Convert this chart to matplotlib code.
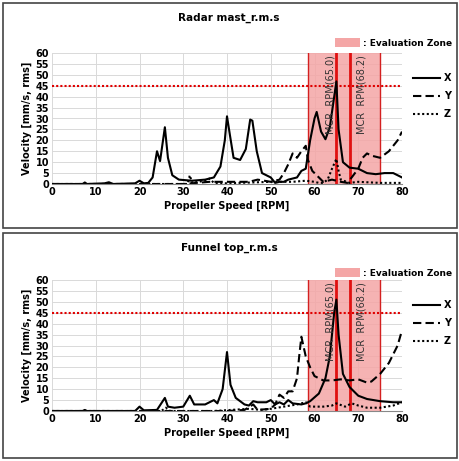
import matplotlib
matplotlib.use("Agg")
import matplotlib.pyplot as plt
from matplotlib.patches import Rectangle
from matplotlib.lines import Line2D

titles = ["Radar mast_r.m.s", "Funnel top_r.m.s"]

top_x_rpm = [0,7,7.5,8,12,13,14,19,20,21,22,23,24,24.7,25.8,26.5,27.5,29,32,35,37,38.5,39.5,40,40.7,41.5,43,44.3,45.3,45.8,46.8,48,50,51,52,53,54,56,57,58,59,60,60.5,61.5,62.5,63.5,64.5,65,65.5,66.5,68,70,72,74,76,78,80]
top_x_val = [0,0,0.7,0,0.3,0.8,0,0.3,1.5,0.3,0.5,3,15,10.5,26,12,4,2,1.5,2,3,8,20,31,22,12,11,16,29.5,29,15,5,3,0.5,1,1,2,3,6,7,20,30,33,24,20.5,26,40,47,25,10,7.5,7,5,4.5,5,5,3]
top_y_rpm = [0,30,36,40,45,47,50,52,53,54,55,56,57,58,58.5,59.5,61,62,64,66,67.5,68.5,70,71,72,73,75,77,79,80]
top_y_val = [0,0,1,1,1,2,1,2,5,9,14,12,15,17.5,11,6,3,1,2,1,0.5,3,7,12,14,13,12,15,20,24]
top_z_rpm = [0,31,31.5,32,35,36,37,40,50,55,58,60,61,62,63,64,65,65.5,66,68,70,75,80]
top_z_val = [0,0,4,0.5,1.5,2.5,0.5,0.3,1,1,1.5,1,0.5,0.5,2,7,11.5,6,2,0.5,1,0.5,0.5]

bot_x_rpm = [0,7,7.5,8,19,20,21,24,25.8,26.5,28,30,31.5,32.5,35,37,37.8,39,40,40.8,42,44,45,46,47,49,50,51,52,53,54,55,57,58,59,61,62.5,63.5,64.5,65,65.5,66.5,68,70,72,75,78,80]
bot_x_val = [0,0,0.5,0,0,2,0.3,0.5,6,2,1.5,2,7,3,3,5,3.5,10,27,12,6,3,2.5,4.5,4,4,5,3,4,3,5,3.5,3,3.5,4.5,8,15,25,45,51,35,17,11,7,5.5,4.5,4,4]
bot_y_rpm = [0,40,44,46,47,50,51,52,53,54,55,56,56.5,57,58,59,60,62,64,66,68,70,72,73,75,77,79,80]
bot_y_val = [0,0,0.5,3,0.5,1,3,7.5,6,9,9,15,25,34,25,20,16,14,14,14.5,14,14.5,13,13.5,17,22,30,37]
bot_z_rpm = [0,25,26,27,37,45,48,50,53,56,58,59,62,64,65,67,68.5,70,72,75,78,80]
bot_z_val = [0,0,1.5,0,0,1,0.5,1,2,3,4,2,2,2.5,3.5,2,3.5,2.5,1.5,1.5,2.5,4]

series = [
    [(top_x_rpm, top_x_val), (top_y_rpm, top_y_val), (top_z_rpm, top_z_val)],
    [(bot_x_rpm, bot_x_val), (bot_y_rpm, bot_y_val), (bot_z_rpm, bot_z_val)],
]
styles = ["-", (0, (4, 2)), (0, (1, 1.2))]
labels = ["X", "Y", "Z"]
zone = (58.5, 75)
mcr = [65.0, 68.2]
limit = 45

W, H = 459, 461
fig = plt.figure(figsize=(W/100, H/100), dpi=100)
boxes = [(3, 3, 454, 225), (3, 233, 454, 225)]
axes_px = [(52, 53, 402, 184), (52, 280, 402, 411)]
FS = 7

for i in range(2):
    bx, by, bw, bh = boxes[i]
    fig.patches.append(Rectangle((bx/W, 1-(by+bh)/H), bw/W, bh/H, transform=fig.transFigure,
                                 fill=False, ec="#444444", lw=1.2))
    l, t, r, b = axes_px[i]
    ax = fig.add_axes([l/W, 1-b/H, (r-l)/W, (b-t)/H])
    ax.set_xlim(0, 80); ax.set_ylim(0, 60)
    ax.set_xticks(range(0, 81, 10)); ax.set_yticks(range(0, 61, 5))
    ax.grid(True, color="#d9d9d9", lw=0.7)
    ax.set_axisbelow(True)
    for s in ["top", "right", "left"]:
        ax.spines[s].set_visible(False)
    ax.spines["bottom"].set_color("#888888")
    ax.tick_params(length=0, labelsize=FS, pad=2)
    for lab in ax.get_xticklabels() + ax.get_yticklabels():
        lab.set_fontweight("bold")
    ax.axvspan(*zone, color="#f4a6a6", alpha=0.85, lw=0)
    ax.axvline(zone[0], color="#d42020", lw=1)
    ax.axvline(zone[1], color="#d42020", lw=1)
    for m in mcr:
        ax.axvline(m, color="#e01010", lw=2)
    ax.axhline(limit, color="#e00000", lw=1.5, ls=(0, (1, 1)))
    for (xs, ys), st in zip(series[i], styles):
        ax.plot(xs, ys, color="black", ls=st, lw=1.5)
    ax.text(mcr[0] - 0.3, 59, "MCR  RPM(65.0)", rotation=90, ha="right", va="top", fontsize=FS, color="#333333")
    ax.text(mcr[1] + 2.5, 59, "MCR  RPM(68.2)", rotation=90, ha="center", va="top", fontsize=FS, color="#333333")
    ax.set_xlabel("Propeller Speed [RPM]", fontsize=FS, fontweight="bold", labelpad=3)
    ax.set_ylabel("Velocity [mm/s, rms]", fontsize=FS, fontweight="bold", labelpad=3)
    fig.text(229/W, 1-(by+15)/H, titles[i], ha="center", va="center", fontsize=7.5, fontweight="bold")
    # zone legend
    fig.patches.append(Rectangle((335/W, 1-(by+44)/H), 25/W, 9/H, transform=fig.transFigure,
                                 color="#f4a6a6", lw=0))
    fig.text(363/W, 1-(by+40)/H, ": Evaluation Zone", ha="left", va="center", fontsize=6.5, fontweight="bold")
    # series legend
    for k in range(3):
        yy = 1-(t + 25 + k*18)/H
        fig.lines.append(Line2D([413/W, 440/W], [yy, yy], transform=fig.transFigure,
                                color="black", ls=styles[k], lw=1.5))
        fig.text(444/W, yy, labels[k], ha="left", va="center", fontsize=7, fontweight="bold")

fig.savefig("out.png", dpi=100)
